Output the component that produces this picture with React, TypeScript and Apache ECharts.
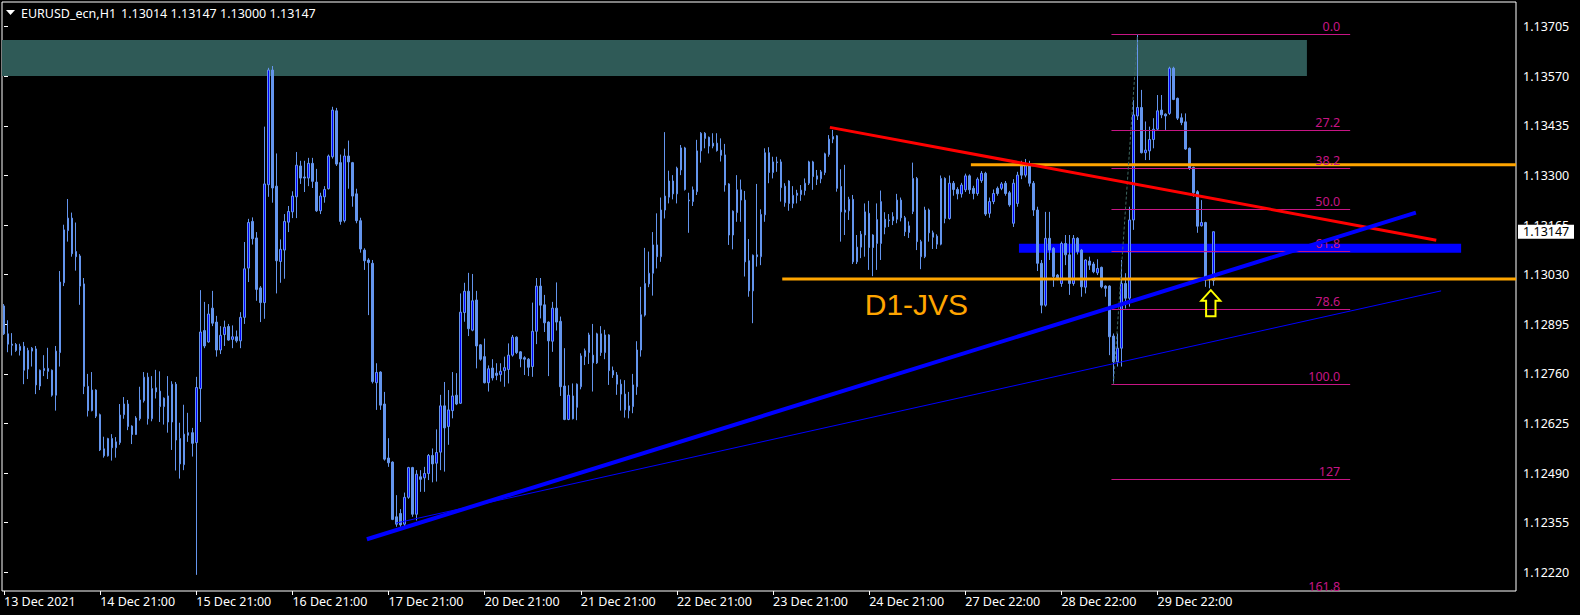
import React, { useEffect, useRef } from "react";
import * as echarts from "echarts";

// Prices are stored as points (1e-5) above BASE.
const BASE = 1.12;
const PT = 0.00001;

const opens = [
  945, 869, 841, 840, 824, 835, 773, 822, 828, 727,
  769, 775, 770, 702, 818, 1008, 1150, 1184, 1093, 1081,
  1005, 726, 660, 716, 649, 556, 537, 584, 559, 573,
  649, 678, 618, 595, 638, 687, 751, 638, 722, 713,
  671, 700, 629, 732, 584, 513, 600, 600, 573, 720,
  878, 847, 939, 901, 825, 867, 889, 854, 861, 850,
  914, 1048, 1175, 1130, 994, 954, 1275, 1587, 1271, 1066,
  1097, 1173, 1201, 1242, 1326, 1296, 1293, 1333, 1282, 1204,
  1242, 1264, 1351, 1476, 1335, 1177, 1353, 1335, 1250, 1177,
  1097, 1070, 1061, 736, 765, 678, 531, 520, 371, 380,
  351, 424, 505, 378, 480, 477, 489, 538, 517, 547,
  673, 617, 660, 702, 680, 927, 985, 879, 961, 839,
  807, 736, 776, 762, 758, 769, 772, 811, 860, 820,
  804, 800, 780, 876, 999, 948, 901, 849, 939, 903,
  727, 636, 700, 669, 725, 807, 818, 811, 790, 869,
  818, 866, 769, 757, 732, 705, 660, 671, 725, 825,
  920, 1005, 1034, 1111, 1079, 1206, 1241, 1285, 1250, 1315,
  1375, 1233, 1229, 1256, 1367, 1415, 1404, 1380, 1388, 1369,
  1356, 1277, 1138, 1199, 1261, 1233, 1068, 986, 1084, 1079,
  1193, 1362, 1308, 1337, 1337, 1226, 1285, 1224, 1246, 1248,
  1259, 1279, 1337, 1299, 1291, 1308, 1357, 1399, 1408, 1270,
  1200, 1204, 1235, 1065, 1105, 1138, 1197, 1138, 1115, 1115,
  1181, 1179, 1188, 1181, 1233, 1185, 1145, 1202, 1292, 1120,
  1079, 1206, 1144, 1113, 1113, 1292, 1183, 1279, 1262, 1250,
  1261, 1299, 1265, 1251, 1286, 1306, 1197, 1229, 1265, 1265,
  1279, 1253, 1170, 1224, 1329, 1301, 1329, 1279, 1206, 1061,
  947, 1129, 1102, 1029, 1006, 1115, 1084, 1006, 1129, 1097,
  996, 1067, 1059, 1035, 1050, 999, 999, 863, 793, 830,
  1006, 966, 1179, 1462, 1485, 1362, 1367, 1398, 1426, 1478,
  1467, 1469, 1592, 1510, 1457, 1446, 1374, 1322, 1256, 1163,
  1172, 1025, 1014,
];

const closes = [
  869, 841, 838, 824, 835, 770, 824, 830, 730, 770,
  775, 767, 702, 822, 1010, 1152, 1184, 1087, 1079, 999,
  726, 660, 716, 645, 553, 537, 584, 559, 575, 648,
  678, 617, 595, 640, 689, 751, 638, 720, 711, 671,
  694, 629, 732, 580, 515, 596, 593, 571, 723, 874,
  836, 923, 898, 825, 865, 887, 852, 861, 850, 914,
  1046, 1172, 1128, 990, 954, 1277, 1587, 1266, 1068, 1099,
  1175, 1202, 1244, 1328, 1293, 1293, 1333, 1284, 1204, 1244,
  1262, 1353, 1478, 1331, 1175, 1353, 1337, 1244, 1177, 1100,
  1068, 1063, 739, 764, 675, 528, 518, 364, 351, 349,
  424, 505, 378, 487, 473, 489, 538, 515, 546, 673,
  613, 662, 700, 678, 928, 985, 883, 959, 836, 800,
  736, 774, 749, 756, 767, 777, 811, 860, 818, 801,
  800, 778, 876, 999, 947, 899, 850, 939, 901, 725,
  636, 702, 638, 732, 809, 823, 866, 790, 869, 818,
  866, 769, 757, 732, 705, 662, 673, 730, 825, 921,
  1006, 1034, 1111, 1079, 1206, 1244, 1285, 1250, 1320, 1375,
  1262, 1231, 1261, 1367, 1415, 1401, 1380, 1388, 1368, 1355,
  1274, 1138, 1203, 1261, 1233, 1065, 986, 1083, 1079, 1194,
  1362, 1308, 1337, 1335, 1267, 1271, 1224, 1246, 1252, 1260,
  1279, 1337, 1297, 1290, 1310, 1359, 1399, 1406, 1265, 1201,
  1206, 1235, 1065, 1105, 1140, 1201, 1104, 1104, 1180, 1229,
  1159, 1177, 1177, 1233, 1185, 1147, 1163, 1292, 1120, 1079,
  1206, 1144, 1132, 1135, 1292, 1183, 1279, 1262, 1250, 1274,
  1299, 1261, 1251, 1290, 1306, 1195, 1229, 1251, 1251, 1277,
  1251, 1220, 1279, 1301, 1301, 1329, 1279, 1206, 1061, 947,
  1129, 1097, 1025, 1020, 1115, 1084, 1006, 1129, 1093, 997,
  1070, 1056, 1038, 1047, 997, 993, 861, 793, 830, 1006,
  966, 1179, 1465, 1485, 1362, 1369, 1398, 1426, 1476, 1465,
  1462, 1592, 1507, 1456, 1444, 1372, 1319, 1253, 1162, 1172,
  1023, 1020, 1147,
];

const lows = [
  866, 819, 810, 820, 810, 732, 746, 780, 705, 716,
  754, 746, 698, 660, 780, 999, 1120, 1079, 1041, 948,
  705, 644, 658, 640, 550, 532, 535, 524, 532, 567,
  638, 607, 569, 594, 633, 682, 622, 631, 693, 629,
  622, 600, 553, 497, 475, 498, 575, 535, 213, 629,
  830, 845, 890, 807, 814, 836, 850, 830, 845, 830,
  896, 1010, 1112, 959, 901, 910, 1242, 1226, 979, 1008,
  1019, 1146, 1184, 1184, 1277, 1255, 1271, 1266, 1201, 1195,
  1226, 1262, 1346, 1326, 1166, 1172, 1264, 1215, 1170, 1090,
  1043, 920, 734, 662, 662, 524, 507, 362, 344, 344,
  344, 420, 371, 361, 439, 439, 471, 465, 467, 498,
  494, 567, 639, 675, 678, 902, 863, 876, 775, 796,
  734, 712, 742, 743, 739, 725, 734, 807, 814, 778,
  757, 754, 752, 841, 911, 874, 754, 820, 878, 700,
  634, 634, 636, 634, 718, 784, 787, 712, 787, 809,
  800, 730, 749, 703, 660, 641, 639, 653, 703, 807,
  916, 996, 973, 1047, 1065, 1183, 1224, 1235, 1224, 1301,
  1259, 1144, 1217, 1247, 1335, 1374, 1360, 1374, 1365, 1338,
  1256, 1111, 1099, 1174, 1174, 1025, 970, 898, 1052, 1056,
  1174, 1279, 1292, 1310, 1229, 1215, 1204, 1211, 1224, 1231,
  1246, 1274, 1261, 1274, 1279, 1301, 1351, 1388, 1256, 1120,
  1138, 1179, 1059, 1059, 1075, 1079, 1043, 1026, 1043, 1070,
  1140, 1160, 1165, 1170, 1175, 1135, 1130, 1195, 1097, 1045,
  1075, 1120, 1100, 1100, 1110, 1170, 1180, 1245, 1235, 1240,
  1255, 1250, 1235, 1245, 1280, 1190, 1185, 1222, 1245, 1260,
  1245, 1215, 1160, 1215, 1290, 1295, 1270, 1190, 1040, 925,
  943, 1070, 997, 1015, 997, 1056, 975, 1000, 1085, 970,
  979, 1043, 1034, 1029, 993, 970, 811, 732, 780, 780,
  938, 943, 1152, 1451, 1360, 1342, 1342, 1374, 1422, 1456,
  1424, 1465, 1505, 1451, 1437, 1370, 1315, 1242, 1144, 1161,
  997, 993, 1000,
];

const highs = [
  950, 906, 871, 844, 842, 847, 831, 833, 836, 772,
  811, 831, 772, 836, 1040, 1166, 1236, 1199, 1172, 1086,
  1021, 760, 765, 718, 652, 589, 586, 596, 588, 678,
  697, 689, 620, 645, 725, 765, 763, 754, 771, 767,
  696, 754, 740, 738, 627, 676, 654, 613, 752, 988,
  956, 950, 986, 918, 890, 905, 896, 892, 878, 928,
  1119, 1182, 1186, 1146, 999, 1433, 1593, 1598, 1360, 1126,
  1195, 1217, 1257, 1364, 1340, 1340, 1348, 1348, 1318, 1253,
  1271, 1357, 1487, 1484, 1357, 1373, 1395, 1337, 1264, 1185,
  1102, 1075, 1070, 789, 767, 711, 585, 522, 430, 392,
  437, 507, 507, 498, 498, 507, 542, 557, 609, 703,
  738, 716, 765, 762, 979, 1008, 1035, 1032, 986, 841,
  856, 783, 800, 789, 789, 807, 843, 866, 862, 822,
  808, 803, 954, 1021, 1021, 975, 903, 956, 1009, 916,
  830, 729, 734, 734, 816, 829, 872, 896, 872, 890,
  880, 868, 780, 765, 745, 743, 711, 760, 849, 997,
  1103, 1093, 1146, 1197, 1240, 1418, 1313, 1301, 1324, 1383,
  1378, 1253, 1270, 1397, 1418, 1418, 1406, 1415, 1415, 1401,
  1386, 1279, 1205, 1301, 1289, 1258, 1127, 1085, 1277, 1208,
  1374, 1377, 1351, 1351, 1344, 1279, 1287, 1271, 1261, 1274,
  1292, 1340, 1340, 1315, 1315, 1362, 1410, 1424, 1410, 1317,
  1329, 1242, 1247, 1138, 1149, 1224, 1231, 1140, 1224, 1259,
  1200, 1195, 1200, 1250, 1240, 1190, 1175, 1335, 1296, 1125,
  1215, 1210, 1150, 1140, 1300, 1295, 1300, 1285, 1268, 1280,
  1305, 1303, 1272, 1295, 1312, 1310, 1240, 1262, 1270, 1282,
  1285, 1258, 1290, 1310, 1340, 1345, 1340, 1285, 1215, 1070,
  1201, 1201, 1105, 1032, 1120, 1138, 1138, 1138, 1132, 1100,
  1072, 1079, 1065, 1072, 1052, 1001, 1001, 870, 870, 1070,
  1034, 1215, 1505, 1684, 1533, 1447, 1433, 1456, 1519, 1519,
  1469, 1596, 1596, 1512, 1469, 1469, 1376, 1324, 1260, 1233,
  1174, 1027, 1147,
];

const xTickLabels = [
  "13 Dec 2021", "14 Dec 21:00", "15 Dec 21:00", "16 Dec 21:00", "17 Dec 21:00",
  "20 Dec 21:00", "21 Dec 21:00", "22 Dec 21:00", "23 Dec 21:00", "24 Dec 21:00",
  "27 Dec 22:00", "28 Dec 22:00", "29 Dec 22:00",
];
const BARS_PER_LABEL = 24;
const TOTAL_SLOTS = 378; // bars + empty right shift

const yTicks = [1.1222, 1.12355, 1.1249, 1.12625, 1.1276, 1.12895, 1.1303, 1.13165, 1.133, 1.13435, 1.1357, 1.13705];
const Y_MIN = 1.121691;
const Y_MAX = 1.137722;

const symbolTitle = "EURUSD_ecn,H1";
const quoteOHLC = [1.13014, 1.13147, 1.13, 1.13147];
const lastPrice = 1.13147;

// Chart objects (x in bar index, y in price)
const supplyZone = { x1: -0.5, x2: 325.3, top: 1.13669, bottom: 1.13571 };
const blueBand = { x1: 253.4, x2: 363.8, top: 1.13114, bottom: 1.1309 };
const hLines = [
  { x1: 241.4, price: 1.13329 },
  { x1: 194.3, price: 1.13018 },
];
const trendLines = [
  { x1: 206.2, p1: 1.13431, x2: 357.6, p2: 1.13124, color: "#ff0000", width: 3 },
  { x1: 90.6, p1: 1.1231, x2: 352.5, p2: 1.13199, color: "#0000ff", width: 4 },
  { x1: 97.9, p1: 1.12354, x2: 358.8, p2: 1.12986, color: "#0000ff", width: 1 },
];
const fib = { x1: 276.5, x2: 336.1, high: 1.13684, low: 1.12732, highBar: 283, lowBar: 277 };
const fibLevels = [0, 27.2, 38.2, 50, 61.8, 78.6, 100, 127, 161.8];
const fibLabels = ["0.0", "27.2", "38.2", "50.0", "61.8", "78.6", "100.0", "127", "161.8"];
const textMark = { text: "D1-JVS", x: 214.9, price: 1.1295 };
const arrowMark = { x: 301.3, price: 1.12988 };

const FONT_FAMILY = "Noto Sans";
const FONT_SIZE = 12.5;

const P = (v: number) => +(BASE + v * PT).toFixed(5);

export default function App() {
  const ref = useRef<HTMLDivElement>(null);

  useEffect(() => {
    document.body.style.margin = "0";
    document.body.style.background = "#000";
    const el = ref.current!;
    const chart = echarts.init(el, null, { renderer: "svg", width: 1580, height: 615 });

    const categories = Array.from({ length: TOTAL_SLOTS }, (_, i) => String(i));
    const candleData = opens.map((o, i) => [P(o), P(closes[i]), P(lows[i]), P(highs[i])]);
    const showTick = (index: number) =>
      index % BARS_PER_LABEL === 0 && index / BARS_PER_LABEL < xTickLabels.length;

    const renderZones = (_params: any, api: any) => {
      const rectOf = (z: any, fill: string) => {
        const a = api.coord([z.x1, z.top]);
        const b = api.coord([z.x2, z.bottom]);
        return {
          type: "rect",
          shape: { x: a[0], y: a[1], width: b[0] - a[0], height: b[1] - a[1] },
          style: { fill },
        };
      };
      return { type: "group", children: [rectOf(supplyZone, "#2f5a57"), rectOf(blueBand, "#0000ff")] };
    };

    const renderDrawings = (_params: any, api: any) => {
      const children: any[] = [];
      const bottomY = api.coord([0, Y_MIN])[1];
      const rightX = api.coord([TOTAL_SLOTS - 0.5, Y_MIN])[0];
      hLines.forEach((h) => {
        const a = api.coord([h.x1, h.price]);
        children.push({
          type: "line",
          shape: { x1: a[0], y1: a[1], x2: rightX, y2: a[1] },
          style: { stroke: "#ffa500", lineWidth: 3 },
        });
      });
      fibLevels.forEach((lvl, k) => {
        const price = fib.high - (lvl / 100) * (fib.high - fib.low);
        const a = api.coord([fib.x1, price]);
        const b = api.coord([fib.x2, price]);
        if (a[1] <= bottomY) {
          children.push({
            type: "line",
            shape: { x1: a[0], y1: Math.round(a[1]) + 0.5, x2: b[0], y2: Math.round(a[1]) + 0.5 },
            style: { stroke: "#c71585", lineWidth: 1 },
          });
        }
        children.push({
          type: "text",
          x: b[0] - 10,
          y: Math.min(a[1] - 1, bottomY + 2),
          style: {
            text: fibLabels[k],
            fill: "#c71585",
            fontSize: FONT_SIZE,
            fontFamily: FONT_FAMILY,
            align: "right",
            verticalAlign: "bottom",
          },
        });
      });
      {
        const a = api.coord([fib.lowBar, fib.low]);
        const b = api.coord([fib.highBar, fib.high]);
        children.push({
          type: "line",
          shape: { x1: a[0], y1: a[1], x2: b[0], y2: b[1] },
          style: { stroke: "#3d6661", lineWidth: 1, lineDash: [3, 2] },
        });
      }
      trendLines.forEach((t) => {
        const a = api.coord([t.x1, t.p1]);
        const b = api.coord([t.x2, t.p2]);
        children.push({
          type: "line",
          shape: { x1: a[0], y1: a[1], x2: b[0], y2: b[1] },
          style: { stroke: t.color, lineWidth: t.width },
        });
      });
      {
        const a = api.coord([textMark.x, textMark.price]);
        children.push({
          type: "text",
          x: a[0],
          y: a[1],
          style: {
            text: textMark.text,
            fill: "#ffa500",
            fontSize: 30,
            fontFamily: "Liberation Sans",
            align: "left",
            verticalAlign: "middle",
          },
        });
      }
      {
        const a = api.coord([arrowMark.x, arrowMark.price]);
        const pts = [
          [0, 0], [9.5, 10.5], [4.7, 10.5], [4.7, 26], [-4.7, 26], [-4.7, 10.5], [-9.5, 10.5],
        ].map((p) => [a[0] + p[0], a[1] + p[1]]);
        children.push({
          type: "polygon",
          shape: { points: pts },
          style: { fill: "none", stroke: "#ffff00", lineWidth: 2 },
        });
      }
      return { type: "group", children };
    };

    const renderPriceTag = (_params: any, api: any) => {
      const a = api.coord([TOTAL_SLOTS - 0.5, lastPrice]);
      return {
        type: "group",
        children: [
          { type: "rect", shape: { x: a[0] + 2, y: a[1] - 7, width: 56, height: 14 }, style: { fill: "#ffffff" } },
          {
            type: "text",
            x: a[0] + 7,
            y: a[1],
            style: {
              text: lastPrice.toFixed(5),
              fill: "#000000",
              fontSize: FONT_SIZE,
              fontFamily: FONT_FAMILY,
              align: "left",
              verticalAlign: "middle",
            },
          },
        ],
      };
    };

    const quoteX = [121, 170.5, 220, 269.5];
    const titleTexts = [
      {
        type: "text",
        x: 21,
        y: 13,
        style: {
          text: symbolTitle,
          fill: "#ffffff",
          fontSize: FONT_SIZE,
          fontFamily: FONT_FAMILY,
          verticalAlign: "middle",
        },
      },
      ...quoteOHLC.map((q, i) => ({
        type: "text",
        x: quoteX[i],
        y: 13,
        style: {
          text: q.toFixed(5),
          fill: "#ffffff",
          fontSize: FONT_SIZE,
          fontFamily: FONT_FAMILY,
          verticalAlign: "middle",
        },
      })),
    ];

    chart.setOption({
      animation: false,
      backgroundColor: "#000000",
      grid: {
        left: 2,
        top: 2,
        width: 1514,
        height: 589,
        show: true,
        borderColor: "#ffffff",
        borderWidth: 1,
        backgroundColor: "transparent",
        containLabel: false,
        outerBoundsMode: "none",
      },
      xAxis: [
        {
          type: "category",
          data: categories,
          boundaryGap: true,
          axisLine: { show: false },
          splitLine: { show: false },
          axisTick: {
            show: true,
            alignWithLabel: true,
            interval: (index: number) => showTick(index),
            length: 4,
            lineStyle: { color: "#ffffff" },
          },
          axisLabel: {
            interval: (index: number) => showTick(index),
            formatter: (_v: string, index: number) =>
              showTick(index) ? xTickLabels[index / BARS_PER_LABEL] : "",
            color: "#ffffff",
            fontSize: FONT_SIZE,
            fontFamily: FONT_FAMILY,
            align: "left",
            margin: 4,
          },
        },
        { type: "value", min: -0.5, max: TOTAL_SLOTS - 0.5, show: false },
      ],
      yAxis: {
        type: "value",
        position: "right",
        min: Y_MIN,
        max: Y_MAX,
        axisLine: { show: false },
        splitLine: { show: false },
        axisTick: { show: true, customValues: yTicks, length: 4, lineStyle: { color: "#ffffff" } },
        axisLabel: {
          customValues: yTicks,
          formatter: (v: number) => v.toFixed(5),
          color: "#ffffff",
          fontSize: FONT_SIZE,
          fontFamily: FONT_FAMILY,
          margin: 7,
        },
      },
      graphic: [
        { type: "polygon", shape: { points: [[6, 10], [15, 10], [10.5, 15]] }, style: { fill: "#ffffff" } },
        ...titleTexts,
      ],
      series: [
        {
          type: "custom",
          name: "zones",
          coordinateSystem: "cartesian2d",
          xAxisIndex: 1,
          yAxisIndex: 0,
          data: [[0, lastPrice]],
          renderItem: renderZones,
          silent: true,
          z: 1,
        },
        {
          type: "candlestick",
          name: "EURUSD",
          xAxisIndex: 0,
          yAxisIndex: 0,
          data: candleData,
          barWidth: 2,
          itemStyle: {
            color: "#0000ff",
            color0: "#6495ed",
            borderColor: "#6495ed",
            borderColor0: "#6495ed",
            borderWidth: 1,
          },
          z: 2,
        },
        {
          type: "custom",
          name: "drawings",
          coordinateSystem: "cartesian2d",
          xAxisIndex: 1,
          yAxisIndex: 0,
          data: [[0, lastPrice]],
          renderItem: renderDrawings,
          silent: true,
          z: 3,
        },
        {
          type: "custom",
          name: "price",
          coordinateSystem: "cartesian2d",
          xAxisIndex: 1,
          yAxisIndex: 0,
          data: [[0, lastPrice]],
          renderItem: renderPriceTag,
          silent: true,
          z: 4,
        },
      ],
    });

    return () => chart.dispose();
  }, []);

  return (
    <div
      ref={ref}
      style={{ position: "absolute", left: 0, top: 0, width: 1580, height: 615, background: "#000" }}
    />
  );
}
